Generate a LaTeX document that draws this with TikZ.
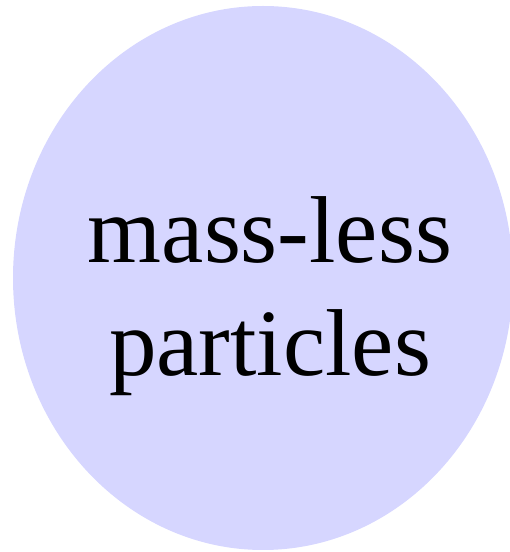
\documentclass[tikz,border=0pt]{standalone}
\usepackage{fontspec}
\setmainfont{Liberation Serif}
\usetikzlibrary{shapes.geometric}
\definecolor{blobfill}{RGB}{214,214,255}
\tikzset{
  blob/.style={ellipse, fill=blobfill, draw=none, inner sep=0pt},
  blobtext/.style={inner sep=0pt, align=center, font=\fontsize{95}{113}\selectfont}
}
\begin{document}
\begin{tikzpicture}[x=1pt,y=1pt]
\useasboundingbox (0,0) rectangle (510,552);
\node[blob, minimum width=500pt, minimum height=544pt] (blob) at (263,274) {};
\node[blobtext] (label) at (270,256) {mass-less\\particles};
\end{tikzpicture}
\end{document}
